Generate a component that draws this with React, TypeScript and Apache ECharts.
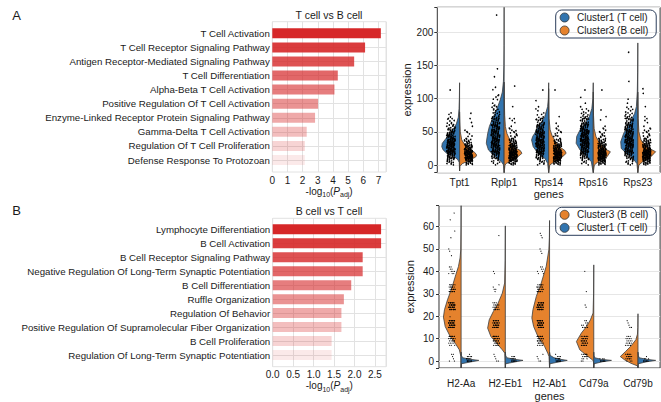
import React, { useEffect, useRef } from 'react';
import * as echarts from 'echarts';

const FONT = '"Liberation Sans", Arial, Helvetica, sans-serif';
const TEXT = '#1a1a1a';
const BLUE = '#3274ae';
const ORANGE = '#e5822d';
const LIGHT = '#e2e2e2';
const DARK = '#333333';

// ---------- Panel A / B enrichment bars ----------
const termsA = [
  'T Cell Activation',
  'T Cell Receptor Signaling Pathway',
  'Antigen Receptor-Mediated Signaling Pathway',
  'T Cell Differentiation',
  'Alpha-Beta T Cell Activation',
  'Positive Regulation Of T Cell Activation',
  'Enzyme-Linked Receptor Protein Signaling Pathway',
  'Gamma-Delta T Cell Activation',
  'Regulation Of T Cell Proliferation',
  'Defense Response To Protozoan',
];
const scoresA = [7.16, 6.12, 5.4, 4.32, 4.1, 3.02, 2.82, 2.27, 2.14, 2.14];

const termsB = [
  'Lymphocyte Differentiation',
  'B Cell Activation',
  'B Cell Receptor Signaling Pathway',
  'Negative Regulation Of Long-Term Synaptic Potentiation',
  'B Cell Differentiation',
  'Ruffle Organization',
  'Regulation Of Behavior',
  'Positive Regulation Of Supramolecular Fiber Organization',
  'B Cell Proliferation',
  'Regulation Of Long-Term Synaptic Potentiation',
];
const scoresB = [2.65, 2.65, 2.2, 2.2, 1.92, 1.74, 1.68, 1.68, 1.44, 1.44];
const barAlpha = [1, 0.9, 0.8, 0.7, 0.6, 0.5, 0.4, 0.3, 0.2, 0.1];

// ---------- Violin panels ----------
const genesTop = ['Tpt1', 'Rplp1', 'Rps14', 'Rps16', 'Rps23'];
const genesBottom = ['H2-Aa', 'H2-Eb1', 'H2-Ab1', 'Cd79a', 'Cd79b'];

// density outlines: [expression, relative half-width]
const topTcellDensity = [
  [[-9, 0], [4, 0.02], [8, 0.1], [12.6, 0.3], [17.6, 0.72], [22.6, 0.92], [27.6, 1.0], [32.7, 0.97], [37.7, 0.83], [42.7, 0.68], [47.7, 0.55], [55, 0.33], [62, 0.18], [72, 0.07], [85, 0.03], [100, 0.012], [124, 0]],
  [[-14, 0], [0, 0.03], [5, 0.15], [12.6, 0.5], [22.6, 0.88], [32.7, 1.0], [37.7, 0.98], [48, 0.92], [58, 0.83], [65, 0.73], [73, 0.6], [85, 0.4], [98, 0.22], [110, 0.1], [126, 0.04], [150, 0.015], [180, 0.006], [245, 0]],
  [[-14, 0], [2.5, 0.06], [10, 0.22], [17.6, 0.6], [27.6, 0.87], [37.7, 0.96], [43, 0.9], [48, 0.78], [58, 0.6], [65, 0.4], [73, 0.22], [88, 0.06], [100, 0.02], [124, 0]],
  [[-14, 0], [5, 0.11], [12.6, 0.37], [22.6, 0.74], [32.7, 0.96], [43, 0.93], [53, 0.74], [63, 0.46], [73, 0.22], [85, 0.08], [100, 0.02], [124, 0]],
  [[-14, 0], [2, 0.05], [10, 0.28], [17.6, 0.65], [25, 0.93], [35, 0.96], [48, 0.79], [63, 0.46], [77.6, 0.18], [88, 0.08], [110, 0.03], [140, 0.01], [184, 0]],
];
const topBcellDensity = [
  [[-9, 0], [-2, 0.02], [2, 0.15], [7, 0.55], [12, 0.9], [15, 0.96], [19, 0.85], [24, 0.55], [30, 0.3], [38, 0.12], [50, 0.04], [65, 0.015], [80, 0]],
  [[-14, 0], [0, 0.05], [2.5, 0.13], [10, 0.67], [17.6, 1.0], [22, 0.9], [27.6, 0.5], [37.7, 0.32], [48, 0.15], [58, 0.07], [75, 0.03], [100, 0.01], [125, 0]],
  [[-14, 0], [0, 0.06], [5, 0.33], [12.6, 0.78], [17.6, 0.98], [22, 0.9], [27.6, 0.6], [37.7, 0.33], [45, 0.18], [53, 0.08], [70, 0.02], [90, 0.005], [115, 0]],
  [[-14, 0], [0, 0.06], [5, 0.28], [12.6, 0.78], [20, 0.96], [22.6, 0.78], [32.7, 0.37], [43, 0.15], [55, 0.05], [75, 0.015], [110, 0]],
  [[-14, 0], [0, 0.06], [5, 0.28], [12.6, 0.74], [20, 1.0], [27.6, 0.46], [37.7, 0.18], [50, 0.06], [70, 0.02], [110, 0]],
];
const bottomBcellDensity = [
  [[-4, 0], [2, 0.01], [5, 0.1], [8, 0.34], [11, 0.62], [15.4, 0.9], [19.6, 1.0], [22.9, 0.94], [27.3, 0.77], [31, 0.6], [34.8, 0.44], [38.5, 0.3], [42.2, 0.15], [46, 0.06], [49.6, 0.02], [60, 0.005], [75, 0]],
  [[-4, 0], [3.5, 0.03], [5, 0.17], [8, 0.5], [11, 0.82], [14.7, 1.0], [18.4, 0.91], [22.1, 0.68], [25.8, 0.41], [30.3, 0.17], [34.8, 0.04], [45, 0.01], [60.3, 0]],
  [[-4, 0], [2, 0.03], [3.5, 0.1], [6.5, 0.28], [11, 0.66], [15.4, 0.9], [19.2, 1.0], [22.9, 0.94], [28.8, 0.75], [34.8, 0.47], [42.2, 0.19], [49.6, 0.04], [55, 0.01], [62.7, 0]],
  [[-4, 0], [0, 0.02], [0.5, 0.07], [2, 0.32], [5, 0.79], [8.7, 0.98], [12.5, 0.7], [15.4, 0.41], [18.4, 0.19], [21.4, 0.04], [30, 0.01], [42.9, 0]],
  [[-4, 0], [-2.2, 0.02], [-1, 0.4], [0.5, 0.75], [2, 1.0], [4.3, 0.7], [6.5, 0.42], [9.5, 0.12], [12, 0.03], [15, 0.01], [21.1, 0]],
];
const bottomTcellDensity = [
  [[-4, 0], [-1.2, 0.02], [-0.3, 0.6], [0.3, 1.0], [0.8, 0.5], [1.5, 0.08], [2.5, 0.02], [4, 0]],
  [[-4, 0], [-1.2, 0.02], [-0.3, 0.6], [0.3, 1.0], [0.8, 0.5], [1.5, 0.08], [2.5, 0.02], [4, 0]],
  [[-4, 0], [-1.2, 0.02], [-0.3, 0.6], [0.3, 1.0], [0.8, 0.6], [1.5, 0.25], [2.5, 0.04], [4, 0]],
  [[-4, 0], [-1.2, 0.02], [-0.3, 0.5], [0.3, 1.0], [0.8, 0.4], [1.5, 0.05], [2.5, 0.01], [4, 0]],
  [[-4, 0], [-1.2, 0.02], [-0.3, 0.5], [0.3, 1.0], [0.8, 0.45], [1.5, 0.06], [2.5, 0.02], [4, 0]],
];

// cell counts: top panel in bins of 5 (from 0), bottom panel per integer value (from 0)
const topTcellCounts = [
  [6, 12, 18, 25, 30, 32, 30, 28, 22, 18, 12, 9, 6, 4, 3, 2],
  [4, 8, 14, 20, 24, 26, 26, 26, 25, 24, 22, 20, 16, 13, 10, 7, 5, 4, 3, 3, 2, 2, 1, 1],
  [5, 10, 15, 20, 25, 28, 30, 30, 28, 25, 20, 16, 12, 8, 5, 3, 2, 2],
  [4, 9, 14, 20, 24, 28, 30, 30, 29, 27, 23, 19, 15, 11, 8, 5, 3, 2, 2],
  [5, 10, 15, 20, 24, 26, 28, 28, 26, 24, 20, 17, 14, 11, 8, 6, 4, 3, 2, 2],
];
const topTcellOutliers = [[84, 91, 113], [124, 133, 145, 226], [97, 103, 113], [102, 113], [103, 112, 126, 170]];
const topBcellCounts = [
  [10, 28, 38, 38, 30, 20, 12, 8, 5, 3, 2, 1],
  [10, 28, 38, 40, 34, 24, 16, 11, 8, 5, 4, 3, 2, 2, 2],
  [12, 30, 38, 40, 32, 22, 14, 9, 6, 4, 3, 2],
  [12, 28, 36, 38, 32, 24, 16, 10, 7, 5, 3, 2],
  [12, 28, 36, 38, 32, 24, 17, 11, 7, 5, 4, 3, 2, 2],
];
const topBcellOutliers = [[64, 70, 78], [88, 110, 119, 124], [63, 73, 84, 98, 113], [68, 73, 83, 98, 113], [73, 88, 98, 108, 115]];

const bottomBcellCounts = [
  [2, 1, 1, 2, 1, 2, 2, 3, 4, 6, 8, 9, 10, 10, 11, 12, 12, 12, 12, 12, 12, 12, 12, 11, 11, 11, 10, 10, 9, 9, 8, 8, 7, 6, 5, 5, 4, 4, 3, 3, 3, 2, 2, 1, 1, 1, 0, 1, 0, 1, 1, 0, 0, 0, 0, 1, 0, 0, 1, 0, 0, 0, 0, 1, 0, 0, 1],
  [2, 1, 1, 1, 2, 2, 3, 5, 7, 8, 9, 10, 10, 10, 10, 10, 10, 9, 9, 8, 8, 7, 6, 5, 4, 4, 3, 3, 2, 2, 2, 1, 2, 1, 1, 1, 0, 1, 0, 1, 1],
  [2, 1, 1, 1, 2, 2, 3, 4, 6, 7, 8, 9, 10, 10, 11, 11, 12, 12, 12, 12, 12, 12, 12, 11, 11, 11, 10, 10, 9, 8, 8, 7, 6, 6, 5, 4, 3, 3, 3, 2, 2, 2, 2, 1, 2, 1, 1, 0, 1, 1, 1, 0, 1, 1, 0, 1, 1, 1],
  [2, 3, 5, 6, 7, 8, 8, 8, 8, 8, 8, 7, 6, 6, 5, 4, 3, 2, 2, 1, 1, 1, 1, 0, 1, 1, 0, 0, 0, 0, 1, 1],
  [3, 5, 6, 6, 6, 6, 6, 5, 5, 4, 4, 3, 3, 2, 2, 2, 1, 1, 1, 1],
];
const bottomBcellOutliers = [[], [56], [], [40], []];
const bottomTcellCounts = [[9, 6, 4, 1, 1], [9, 5, 3], [9, 6, 3, 1, 0, 1], [8, 3], [8, 3, 1]];
const bottomTcellOutliers = [[], [], [], [], []];

const frac = (x: number) => x - Math.floor(x);

function pointItems(counts: number[][], outliers: number[][], bin: number) {
  const items: number[][] = [];
  counts.forEach((row, gi) => {
    row.forEach((n, k) => {
      if (n > 0) items.push([gi, bin ? bin * (k + 0.5) : k, n, bin]);
    });
    outliers[gi].forEach((v) => items.push([gi, v, 1, 0]));
  });
  return items;
}

function violinSeries(name: string, color: string, profiles: number[][][], side: number, axis: number) {
  return {
    type: 'custom',
    name,
    xAxisIndex: axis,
    yAxisIndex: axis,
    silent: true,
    z: 2,
    itemStyle: { color },
    encode: { x: 0, y: 1 },
    data: profiles.map((_, i) => [i, 0]),
    renderItem: (params: any, api: any) => {
      const i = api.value(0);
      const cs = params.coordSys;
      const band = api.size([1, 0])[0];
      const cx = api.coord([i, 0])[0];
      const maxW = band * 0.4;
      const pts = profiles[i].map(([v, w]) => {
        let y = api.coord([i, v])[1];
        y = Math.max(cs.y, Math.min(cs.y + cs.height, y));
        return [cx + side * w * maxW, y];
      });
      return {
        type: 'polygon',
        shape: { points: pts },
        style: { fill: color, stroke: '#3d3d3d', lineWidth: 0.8 },
      };
    },
  };
}

function pointSeries(items: number[][], side: number, lo: number, hi: number, r: number, axis: number) {
  return {
    type: 'custom',
    xAxisIndex: axis,
    yAxisIndex: axis,
    silent: true,
    z: 3,
    encode: { x: 0, y: 1 },
    data: items,
    renderItem: (params: any, api: any) => {
      const gi = api.value(0);
      const v = api.value(1);
      const n = api.value(2);
      const bw = api.value(3);
      const c = api.coord([gi, v]);
      const half = api.size([1, 0])[0] / 2;
      const hpx = bw ? Math.abs(api.coord([gi, v + bw / 2])[1] - api.coord([gi, v - bw / 2])[1]) : 0;
      const children: any[] = [];
      for (let k = 0; k < n; k++) {
        const fx = frac(0.137 * v + 0.29 * gi + 0.7548777 * k + 0.11);
        const fy = frac(0.071 * v + 0.5698403 * k + 0.23);
        children.push({
          type: 'circle',
          shape: { cx: c[0] + side * (lo + fx * (hi - lo)) * half, cy: c[1] + (fy - 0.5) * hpx, r },
          style: { fill: '#000' },
        });
      }
      return { type: 'group', children };
    },
  };
}

const barSeries = (scores: number[], axis: number) => ({
  type: 'bar',
  xAxisIndex: axis,
  yAxisIndex: axis,
  barWidth: 10,
  clip: false,
  silent: true,
  data: scores.map((v, i) => ({ value: v, itemStyle: { color: `rgba(214,39,40,${barAlpha[i]})` } })),
});

const logName = '{a|-log}{s|10}{a|(}{i|P}{s|adj}{a|)}';
const logRich = {
  a: { fontSize: 10, color: TEXT, fontFamily: FONT, lineHeight: 14 },
  i: { fontSize: 10, color: TEXT, fontFamily: FONT, fontStyle: 'italic', lineHeight: 14 },
  s: { fontSize: 7, color: TEXT, fontFamily: FONT, verticalAlign: 'bottom', lineHeight: 8 },
};

const hiddenValue = (gridIndex: number, max: number) => ({
  gridIndex, type: 'value', min: 0, max, show: false,
});

function buildOption() {
  const legendCommon = {
    orient: 'vertical',
    left: 555.7,
    icon: 'circle',
    itemWidth: 15,
    itemHeight: 9,
    itemGap: 3,
    padding: [2.5, 8, 2.5, 4],
    borderColor: '#2b3d5a',
    borderWidth: 1,
    borderRadius: 6,
    selectedMode: false,
    textStyle: { fontSize: 10, color: TEXT, fontFamily: FONT },
    itemStyle: { borderColor: '#333', borderWidth: 0.8 },
  };
  const catLabel = { fontSize: 9.7, color: TEXT, margin: 2.5, interval: 0 };
  return {
    animation: false,
    textStyle: { fontFamily: FONT },
    grid: [
      { left: 272.3, top: 21.7, width: 113.7, height: 150.3, show: true, borderColor: LIGHT, borderWidth: 1 },
      { left: 272.3, top: 33.3, width: 113.7, height: 126.7 },
      { left: 272.7, top: 218.3, width: 113.3, height: 148.4, show: true, borderColor: LIGHT, borderWidth: 1 },
      { left: 272.7, top: 229.3, width: 113.3, height: 125.7 },
      { left: 437.3, top: 7.3, width: 222.8, height: 165.4, show: true, borderColor: DARK, borderWidth: 1 },
      { left: 439, top: 205.7, width: 221.1, height: 162.6, show: true, borderColor: DARK, borderWidth: 1 },
    ],
    xAxis: [
      {
        gridIndex: 0, type: 'value', min: 0, max: 7.5, interval: 1,
        axisLine: { show: false }, axisTick: { show: false },
        splitLine: { show: true, lineStyle: { color: LIGHT, width: 1 } },
        axisLabel: { fontSize: 10, color: TEXT, margin: 3, formatter: (v: number) => (Number.isInteger(v) ? String(v) : '') },
        name: logName, nameLocation: 'middle', nameGap: 12, nameTextStyle: { rich: logRich },
      },
      hiddenValue(1, 7.5),
      {
        gridIndex: 2, type: 'value', min: 0, max: 2.77, interval: 0.5,
        axisLine: { show: false }, axisTick: { show: false },
        splitLine: { show: true, lineStyle: { color: LIGHT, width: 1 } },
        axisLabel: {
          fontSize: 10, color: TEXT, margin: 3,
          formatter: (v: number) => (Math.abs(v * 2 - Math.round(v * 2)) < 1e-6 ? v.toFixed(1) : ''),
        },
        name: logName, nameLocation: 'middle', nameGap: 12, nameTextStyle: { rich: logRich },
      },
      hiddenValue(3, 2.77),
      {
        gridIndex: 4, type: 'category', data: genesTop, boundaryGap: true,
        axisLine: { show: false },
        axisTick: { show: true, alignWithLabel: true, length: 3, lineStyle: { color: DARK } },
        axisLabel: { fontSize: 10, color: TEXT, margin: 5 },
        splitLine: { show: false },
        name: 'genes', nameLocation: 'middle', nameGap: 15, nameTextStyle: { fontSize: 11, color: TEXT },
      },
      {
        gridIndex: 5, type: 'category', data: genesBottom, boundaryGap: true,
        axisLine: { show: false },
        axisTick: { show: true, alignWithLabel: true, length: 3, lineStyle: { color: DARK } },
        axisLabel: { fontSize: 10, color: TEXT, margin: 10 },
        splitLine: { show: false },
        name: 'genes', nameLocation: 'middle', nameGap: 22, nameTextStyle: { fontSize: 11, color: TEXT },
      },
    ],
    yAxis: [
      hiddenValue(0, 1),
      {
        gridIndex: 1, type: 'category', data: termsA, inverse: true, boundaryGap: false,
        axisLine: { show: false }, axisTick: { show: false },
        splitLine: { show: true, lineStyle: { color: LIGHT, width: 1 } },
        axisLabel: catLabel,
      },
      hiddenValue(2, 1),
      {
        gridIndex: 3, type: 'category', data: termsB, inverse: true, boundaryGap: false,
        axisLine: { show: false }, axisTick: { show: false },
        splitLine: { show: true, lineStyle: { color: LIGHT, width: 1 } },
        axisLabel: catLabel,
      },
      {
        gridIndex: 4, type: 'value', min: -11.6, max: 237.7, splitNumber: 5,
        axisLine: { show: false },
        axisTick: { show: true, length: 3, lineStyle: { color: DARK } },
        axisLabel: { fontSize: 10, color: TEXT, margin: 4, formatter: (v: number) => (v % 50 === 0 ? String(v) : '') },
        splitLine: { show: true, lineStyle: { color: '#e6e6e6', width: 1 } },
        name: 'expression', nameLocation: 'middle', nameGap: 24, nameTextStyle: { fontSize: 11, color: TEXT },
      },
      {
        gridIndex: 5, type: 'value', min: -3.1, max: 69.3, splitNumber: 7,
        axisLine: { show: false },
        axisTick: { show: true, length: 3, lineStyle: { color: DARK } },
        axisLabel: { fontSize: 10, color: TEXT, margin: 5, formatter: (v: number) => (v % 10 === 0 ? String(v) : '') },
        splitLine: { show: true, lineStyle: { color: '#e6e6e6', width: 1 } },
        name: 'expression', nameLocation: 'middle', nameGap: 24, nameTextStyle: { fontSize: 11, color: TEXT },
      },
    ],
    legend: [
      { ...legendCommon, top: 10, data: ['Cluster1 (T cell)', 'Cluster3 (B cell)'] },
      { ...legendCommon, top: 207.3, data: ['Cluster3 (B cell)', 'Cluster1 (T cell)'] },
    ],
    graphic: [
      { type: 'text', x: 16.5, y: 15, style: { text: 'A', font: `13px ${FONT}`, fill: TEXT, textAlign: 'center', textVerticalAlign: 'middle' } },
      { type: 'text', x: 16.5, y: 210.5, style: { text: 'B', font: `13px ${FONT}`, fill: TEXT, textAlign: 'center', textVerticalAlign: 'middle' } },
      { type: 'text', x: 329, y: 15, style: { text: 'T cell vs B cell', font: `10.5px ${FONT}`, fill: TEXT, textAlign: 'center', textVerticalAlign: 'middle' } },
      { type: 'text', x: 329, y: 210.5, style: { text: 'B cell vs T cell', font: `10.5px ${FONT}`, fill: TEXT, textAlign: 'center', textVerticalAlign: 'middle' } },
    ],
    series: [
      barSeries(scoresA, 1),
      barSeries(scoresB, 3),
      violinSeries('Cluster1 (T cell)', BLUE, topTcellDensity, -1, 4),
      violinSeries('Cluster3 (B cell)', ORANGE, topBcellDensity, 1, 4),
      pointSeries(pointItems(topTcellCounts, topTcellOutliers, 5), -1, 0.2, 0.58, 0.8, 4),
      pointSeries(pointItems(topBcellCounts, topBcellOutliers, 5), 1, 0.22, 0.58, 0.8, 4),
      violinSeries('Cluster3 (B cell)', ORANGE, bottomBcellDensity, -1, 5),
      violinSeries('Cluster1 (T cell)', BLUE, bottomTcellDensity, 1, 5),
      pointSeries(pointItems(bottomBcellCounts, bottomBcellOutliers, 0), -1, 0.27, 0.57, 0.55, 5),
      pointSeries(pointItems(bottomTcellCounts, bottomTcellOutliers, 0), 1, 0.25, 0.5, 0.55, 5),
    ],
  };
}

export default function App() {
  const ref = useRef<HTMLDivElement>(null);
  useEffect(() => {
    document.body.style.margin = '0';
    if (!ref.current) return;
    const chart = echarts.init(ref.current, undefined, { renderer: 'svg' });
    chart.setOption(buildOption() as any);
    return () => chart.dispose();
  }, []);
  return <div ref={ref} style={{ width: 661, height: 402, background: '#fff' }} />;
}
